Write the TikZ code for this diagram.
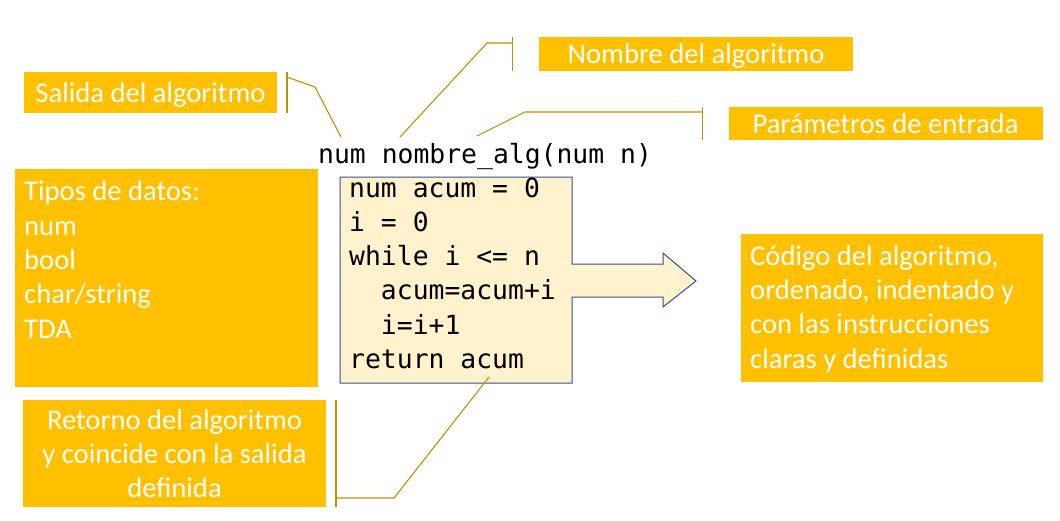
\documentclass[tikz,border=0pt]{standalone}
\usepackage{fontspec}
\setmainfont{Carlito}
\newfontfamily\codefont{DejaVu Sans Mono}
\definecolor{gold}{RGB}{255,192,0}
\definecolor{leader}{RGB}{191,144,0}
\definecolor{codefill}{RGB}{255,242,204}
\definecolor{codeline}{RGB}{47,82,143}
\begin{document}
\begin{tikzpicture}[x=1pt,y=-1pt,
  labelbox/.style={fill=gold, draw=none, inner sep=0pt, anchor=north west},
  labeltext/.style={text=white, font=\fontsize{28.6}{34.3}\selectfont, inner sep=0pt},
  leaderline/.style={draw=leader, line width=1.1pt},
  codetext/.style={font=\codefont\fontsize{26.4}{34.3}\selectfont, inner sep=0pt, anchor=base west, align=left}]
\fill[white] (0,0) rectangle (1060,520);
\useasboundingbox (0,0) rectangle (1060,520);

% label boxes (multi-line texts are anchored at the baseline of their last line)
\node[labelbox, minimum width=253pt, minimum height=41pt] (salida) at (24,72) {};
\node[labeltext, anchor=base] (salidaT) at (150.5,102) {Salida del algoritmo};

\node[labelbox, minimum width=314pt, minimum height=34pt] (nombre) at (539,37) {};
\node[labeltext, anchor=base] (nombreT) at (696,63) {Nombre del algoritmo};

\node[labelbox, minimum width=314pt, minimum height=33pt] (param) at (729,107) {};
\node[labeltext, anchor=base] (paramT) at (885.5,133) {Parámetros de entrada};

\node[labelbox, minimum width=303pt, minimum height=218pt] (tipos) at (15,169) {};
\node[labeltext, anchor=base west, align=left] (tiposT) at (24,338) {Tipos de datos:\\num\\bool\\char/string\\TDA};

\node[labelbox, minimum width=302pt, minimum height=148pt] (codigo) at (741,234) {};
\node[labeltext, anchor=base west, align=left] (codigoT) at (750,368) {Código del algoritmo,\\ordenado, indentado y\\con las instrucciones\\claras y definidas};

\node[labelbox, minimum width=303pt, minimum height=107pt] (retorno) at (23,400) {};
\node[labeltext, anchor=base, align=center, font=\fontsize{28.6}{34}\selectfont] (retornoT) at (174.5,497) {Retorno del algoritmo\\y coincide con la salida\\definida};

% code box with arrow
\path[fill=codefill, draw=codeline, line width=1pt]
  (340,177) -- (572,177) -- (572,264) -- (663,264) -- (663,253) -- (696,281)
  -- (663,307) -- (663,297) -- (572,297) -- (572,383) -- (340,383) -- cycle;

\node[codetext] (firma) at (318,163) {num nombre\_alg(num n)};
\node[codetext] (cuerpo) at (349,368.5) {num acum = 0\\i = 0\\while i <= n\\\hphantom{nn}acum=acum+i\\\hphantom{nn}i=i+1\\return acum};

% leader lines
\coordinate (s1) at (287,72); \coordinate (s2) at (287,113);
\coordinate (s3) at (287,77); \coordinate (s4) at (315,87); \coordinate (s5) at (341,137);
\draw[leaderline] (s1) -- (s2);
\draw[leaderline] (s3) -- (s4) -- (s5);

\coordinate (n1) at (512.5,37); \coordinate (n2) at (512.5,71);
\coordinate (n3) at (512.5,43); \coordinate (n4) at (487,43); \coordinate (n5) at (400,137);
\draw[leaderline] (n1) -- (n2);
\draw[leaderline] (n3) -- (n4) -- (n5);

\coordinate (p1) at (702.5,107); \coordinate (p2) at (702.5,140);
\coordinate (p3) at (702.5,112); \coordinate (p4) at (525,112); \coordinate (p5) at (477,136);
\draw[leaderline] (p1) -- (p2);
\draw[leaderline] (p3) -- (p4) -- (p5);

\coordinate (r1) at (336,400); \coordinate (r2) at (336,507);
\coordinate (r3) at (336,498); \coordinate (r4) at (394,498); \coordinate (r5) at (489,377);
\draw[leaderline] (r1) -- (r2);
\draw[leaderline] (r3) -- (r4) -- (r5);
\end{tikzpicture}
\end{document}
